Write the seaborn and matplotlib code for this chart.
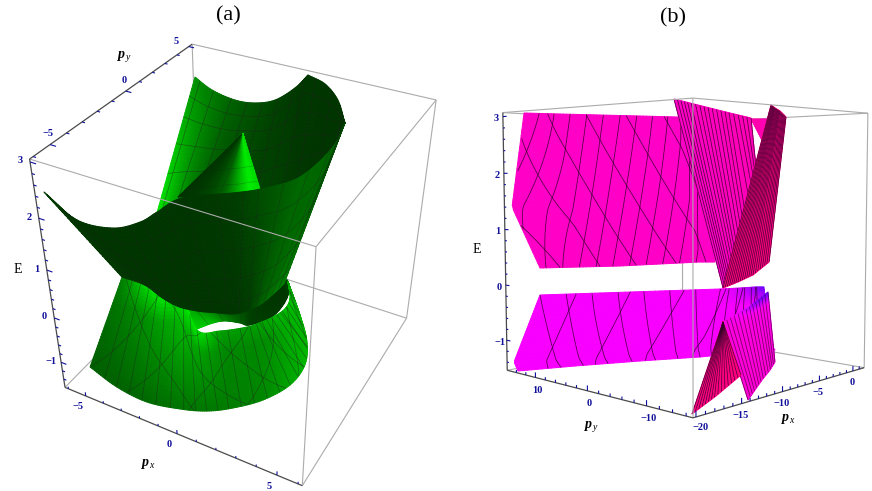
import numpy as np, matplotlib
matplotlib.use('Agg')
import matplotlib.pyplot as plt
import seaborn as sns
from mpl_toolkits.mplot3d.art3d import Line3DCollection

# ---------- panel (a): surface rails (px, py, E) ----------
A_PX_RANGE, A_PY_RANGE, A_E_RANGE = (-6.2, 6.2), (-6.2, 5.3), (-1.6, 3.05)
A1_px = [[-6.41,-5.21,-3.94,-3.04,-1.96,-0.76,-0.01], [-1.48,-0.45,0.23,0.98,2.02,2.70,3.44]]
A1_py = [[5.77,5.42,5.47,5.86,5.90,5.60,5.39], [-4.62,-4.86,-4.14,-3.54,-3.36,-3.15,-3.13]]
A1_E = [[2.3,2.2,2.1,2.05,2.2,2.6,2.95], [2.3,2.6,2.6,2.6,2.6,2.7,2.8]]
A1_shade = [[.55,.45,.3,.2,.1,.05,.03], [.95,.6,.3,.15,.1,.1,.05]]
A1R_px = [[-0.01,1.07,2.23,3.35], [3.44,3.66,4.05,3.35]]
A1R_py = [[5.39,4.95,3.86,2.20], [-3.13,-1.89,-0.93,2.20]]
A1R_E = [[2.95,2.95,2.95,2.95], [2.8,2.8,2.9,2.95]]
A1R_shade = [[.03,.02,.02,.02], [.05,.02,.02,.02]]
A2_px = [[-2.18]*7, [-3.83,-3.17,-2.60,-2.07,-1.49,-1.16,-0.78]]
A2_py = [[3.24]*7, [0.16,0.58,0.96,1.41,1.79,2.14,2.41]]
A2_E = [[2.0]*7, [1.2]*7]
A2_shade = [[0,.05,.15,.4,.8,1,.9], [0,.05,.15,.35,.75,1,.9]]
A3_px = [[-5.51,-4.22,-3.11,-2.15,-1.48,-0.24,1.32,2.12,3.29,3.65,3.35], [-4.49,-3.24,-2.08,-1.12,-0.25,0.40,1.25,1.67,1.96,2.11,2.21]]
A3_py = [[-6.40,-6.17,-5.40,-4.88,-4.62,-4.66,-3.50,-2.80,-1.73,0.45,2.20], [-3.49,-3.49,-3.86,-4.03,-3.91,-3.69,-3.37,-2.87,-2.30,-1.49,-0.66]]
A3_E = [[2.6,2.2,2.0,2.1,2.3,2.7,2.7,2.7,2.8,2.9,2.95], [.35]*11]
A3_shade = [[.05,.02,.02,.02,.02,.02,.07,.18,.36,.34,.12], [.05,.02,.02,.02,.02,.02,.02,.07,.3,.42,.45]]
A4_px = [[-1.12,-0.25,0.40,1.25,1.67,1.96,2.11,2.21], [-0.23,0.19,0.59,1.24,1.69,2.31,2.29,2.24]]
A4_py = [[-3.91,-3.69,-3.37,-2.87,-2.30,-1.49,-0.66,-0.38], [-4.01,-3.38,-3.03,-2.85,-2.77,-1.82,-0.48,-0.34]]
A4_E = [[.35]*8, [0,0,0,0,0,0,0,.3]]
A4_shade = [[.7,.5,.35,.15,.05,.02,.02,.2], [.85,.75,.5,.3,.1,.05,.05,.3]]
A5_px = [[-4.59,-3.75,-2.81,-2.09,-0.19,0.73,1.64,2.06,2.34,2.55,2.55,2.24], [-5.41,-3.53,-1.79,-0.25,0.88,1.81,2.77,3.42,3.56,3.43,2.95,2.24]]
A5_py = [[-3.36,-3.13,-2.96,-2.40,-4.06,-3.67,-2.94,-2.37,-1.87,-1.16,-0.70,-0.34], [-5.24,-5.71,-5.85,-5.54,-5.11,-4.45,-3.44,-2.10,-0.92,-0.55,-0.42,-0.34]]
A5_E = [[.3,.2,.1,0,0,0,0,0,0,0,.1,.3], [-1.3]*8 + [-1.2,-.8,-.3,.3]]
A5_shade = [[.45,.8,1,1,.95,.6,.6,.65,.7,.75,.8,.6],
            [.4,.5,.6,.72,.62,.5,.5,.55,.65,.72,.78,.6],
            [.3,.32,.35,.4,.42,.45,.5,.65,.72,.72,.72,.6]]

# ---------- panel (b) ----------
B_PX_RANGE, B_PY_RANGE, B_E_RANGE = (-20.3, 1.8), (-17, 16), (-1.55, 3.07)
B1_px = [[-21.90,-19.13,-16.04,-12.82,-9.67,-7.24], [-19.76,-15.87,-12.81,-9.29,-5.69,-4.14], [-16.67,-13.70,-10.66,-6.94,-3.04,-2.07]]
B1_py = [[8.30,6.67,4.63,2.51,0.59,-0.08], [15.49,10.44,7.83,5.73,3.64,2.43], [15.89,12.96,9.97,7.87,5.67,4.11]]
B1_E = [[3]*6, [1.4,1.35,1.35,1.35,1.35,1.35], [.25]*6]
B1_shade = [[.42]*6, [.42]*6]
B0_px = [[-9.48,-8.54], [-11.18,-11.18]]
B0_py = [[-11.42,-12.89], [-15.28,-15.28]]
B0_E = [[2.9,2.9], [2.5,2.5]]
B0_shade = [[.3,.35], [.3,.35]]
B2_px = [[-23.66,-20.47,-15.92,-10.57,-4.16], [-8.95,-8.13,-5.85,-6.20,68.30]]
B2_py = [[-19.20,-16.84,-13.47,-9.51,-4.91], [-6.36,-6.11,-4.37,-6.48,81.84]]
B2_E = [[3]*5, [0,.3,.7,1.4,2.2]]
B2_shade = [[.42,.4,.38,.36,.34]]*2
B3_px = [[-12.59,-9.87,-6.83,0.02], [-8.95,-7.93,-6.31,-2.32]]
B3_py = [[-18.06,-15.47,-12.71,-5.88], [-6.36,-7.52,-7.98,-5.88]]
B3_E = [[3.05]*4, [0,.1,.2,.35]]
B3_shade = [[.12]*4]*2
B4_px = [[-22.10,-18.07,-13.91,-9.61,-7.98,-6.61,-6.09], [-20.53,-16.44,-11.13,-5.83,-2.89,-0.56,1.19], [-20.47,-15.87,-10.54,-5.57,-2.66,-0.34,1.70]]
B4_py = [[5.30,1.42,-2.58,-6.72,-7.92,-8.68,-9.51], [14.00,9.24,5.40,1.85,0.22,-1.40,-2.03], [13.30,10.28,6.32,2.20,0.52,-1.15,-2.34]]
B4_E = [[0]*7, [-1.35]*7, [-1.5]*7]
B4_shade = [[.68,.68,.68,.68,.78,.9,1.0], [.68,.68,.68,.68,.68,.68,.68], [.68]*7]
B5_px = [[-8.96,-7.73,-6.37,-7.24,-8.35], [-14.57,-11.83,-8.82,-5.45,-2.59]]
B5_py = [[-6.38,-6.79,-7.25,-9.94,-12.81], [-17.40,-15.07,-12.52,-9.81,-7.30]]
B5_E = [[-.6,-.5,-.4,-.2,0], [-1.5]*5]
B5_shade = [[.55,.65,.8,.95,1.0], [.52,.53,.55,.57,.6], [.48]*5]
B6_px = [[-8.96]*3, [-20.26,-15.31,-8.61]]
B6_py = [[-6.38]*3, [-16.79,-13.61,-8.92]]
B6_E = [[-.6]*3, [-1.5]*3]
B6_shade = [[.12]*3]*2

A_PX_TICKS, A_PY_TICKS, A_E_TICKS = [-5, 0, 5], [-5, 0, 5], [-1, 0, 1, 2, 3]
B_PX_TICKS, B_PY_TICKS, B_E_TICKS = [-20, -15, -10, -5, 0], [-10, 0, 10], [-1, 0, 1, 2, 3]

sns.set_theme(style='white')
plt.rcParams['font.family'] = ['Liberation Serif', 'DejaVu Serif']
plt.rcParams['mathtext.fontset'] = 'custom'
plt.rcParams['mathtext.rm'] = 'Liberation Serif'
plt.rcParams['mathtext.it'] = 'Liberation Serif:italic'
plt.rcParams['mathtext.bfit'] = 'Liberation Serif:italic:bold'

GREENS = sns.blend_palette(['#003200', '#006400', '#00aa00', '#00ee00'], 256, as_cmap=True)
PINKS = sns.blend_palette(['#ff0064', '#ff00b4', '#ff00ff', '#6a00ff'], 256, as_cmap=True)
TICK = '#10109a'
GREY, DARK = '#ababab', '#4a4a4a'

fig = plt.figure(figsize=(8.72, 4.91), dpi=100)


def camera(px_r, py_r, e_r, pixels):
    """Projective camera of one panel, fitted on its eight box corners."""
    A, b = [], []
    for (i, j, k), (u, v) in pixels.items():
        X, Y, Z = px_r[i], py_r[j], e_r[k]
        A.append([X, Y, Z, 1, 0, 0, 0, 0, -u*X, -u*Y, -u*Z]); b.append(u)
        A.append([0, 0, 0, 0, X, Y, Z, 1, -v*X, -v*Y, -v*Z]); b.append(v)
    p = np.linalg.lstsq(np.array(A, float), np.array(b, float), rcond=None)[0]
    return np.append(p, 1).reshape(3, 4)


def panel_axes(P):
    ax = fig.add_axes([0, 0, 1, 1], projection='3d', computed_zorder=False)
    M = np.vstack([P[0], P[1], [0, 0, 1, 0], P[2]])
    ax.get_proj = lambda: M
    ax.apply_aspect = lambda position=None: None
    ax.set_axis_off()
    ax.patch.set_visible(False)
    return ax


def catmull(v, n):
    v = np.asarray(v, float)
    p = np.r_[2*v[0]-v[1], v, 2*v[-1]-v[-2]]
    out = []
    for i in range(1, len(p)-2):
        u = np.linspace(0, 1, n, endpoint=False)
        out.append(.5*((2*p[i]) + (p[i+1]-p[i-1])*u + (2*p[i-1]-5*p[i]+4*p[i+1]-p[i+2])*u**2
                       + (3*p[i]-p[i-1]-3*p[i+1]+p[i+2])*u**3))
    out.append([v[-1]])
    return np.concatenate(out)


def linear(v, n):
    v = np.asarray(v, float)
    i = np.linspace(0, len(v)-1, (len(v)-1)*n+1)
    return np.interp(i, np.arange(len(v)), v)


def refine(rows, row_t, smooth, nr=30, n=12):
    f = catmull if smooth else linear
    G = np.array([f(r, n) for r in rows])
    t = np.linspace(0, 1, nr)
    return np.array([np.interp(t, row_t, G[:, c]) for c in range(G.shape[1])]).T


def patch(ax, px, py, E, shade, cmap, z, row_t=(0, 1), shade_t=None, smooth=False):
    X, Y, Z = (refine(a, row_t, smooth) for a in (px, py, E))
    if shade_t is None:
        shade_t = row_t if len(shade) == len(row_t) else np.linspace(0, 1, len(shade))
    S = refine(shade, shade_t, False)
    ax.plot_surface(X, Y, Z, facecolors=cmap(np.clip(S, 0, 1)), rstride=1, cstride=1,
                    shade=False, linewidth=.7, zorder=z)
    return X, Y, Z


def segments(ax, segs, color, lw, alpha, z):
    ax.add_collection3d(Line3DCollection(np.array(segs, float), colors=color, linewidths=lw,
                                         alpha=alpha, zorder=z))


def bilinear(G, tc, sc):
    i = np.minimum(tc.astype(int), G.shape[0]-2)
    j = np.minimum(sc.astype(int), G.shape[1]-2)
    a, b = tc-i, sc-j
    return (G[i, j]*(1-a)*(1-b) + G[i+1, j]*a*(1-b) + G[i, j+1]*(1-a)*b + G[i+1, j+1]*a*b)


def mesh(ax, grid, pairs, z, color, lw, alpha, t_lines=()):
    X, Y, Z = grid
    nr, nc = X.shape
    t = np.linspace(0, 1, 40)
    segs = []
    for s0, s1 in pairs:
        s = s0 + (s1-s0)*t
        keep = (s >= 0) & (s <= 1)
        if keep.sum() < 2:
            continue
        tc, sc = t[keep]*(nr-1), s[keep]*(nc-1)
        pts = np.c_[bilinear(X, tc, sc), bilinear(Y, tc, sc), bilinear(Z, tc, sc)]
        segs += [(pts[k], pts[k+1]) for k in range(len(pts)-1)]
    for tv in t_lines:
        i = int(round(tv*(nr-1)))
        pts = np.c_[X[i], Y[i], Z[i]]
        segs += [(pts[k], pts[k+1]) for k in range(len(pts)-1)]
    segments(ax, segs, color, lw, alpha, z)


def label(ax, P, at, text, off, **kw):
    h = P @ np.r_[at, 1]
    ax.annotate(text, xy=(h[0]/h[2], h[1]/h[2]), xytext=(off[0], -off[1]), textcoords='offset pixels',
                ha='center', va='center', annotation_clip=False, **kw)


def tick_label(ax, P, at, text, off):
    s = str(text).replace('-', '\u2212')
    label(ax, P, at, s, off, fontsize=7.5, fontweight='bold', color=TICK, zorder=60)


AXIS_FONT = dict(fontsize=10, color='black', zorder=60)

# =============== panel (a) ===============
a0, a1 = A_PX_RANGE; b0, b1 = A_PY_RANGE; e0, e1 = A_E_RANGE
Pa = camera(A_PX_RANGE, A_PY_RANGE, A_E_RANGE, {
    (0, 0, 1): (30, 158), (1, 0, 1): (316, 248), (0, 1, 1): (192, 44), (1, 1, 1): (436, 100),
    (0, 0, 0): (65, 387), (1, 0, 0): (302, 486), (1, 1, 0): (407, 317), (0, 1, 0): (199, 252)})
axa = panel_axes(Pa)
segments(axa, [((a0, b1, e1), (a0, b1, e0)), ((a0, b1, e0), (a1, b1, e0)), ((a0, b0, e0), (a0, b1, e0)),
               ((a0, b1, e1), (a1, b1, e1)), ((a1, b1, e1), (a1, b1, e0)), ((a1, b0, e0), (a1, b1, e0))],
         GREY, .8, 1, 1)

MC, ML, MA = '#222222', .45, .55
g = patch(axa, A1_px, A1_py, A1_E, A1_shade, GREENS, 2, smooth=True)
mesh(axa, g, [(s, s) for s in np.linspace(.05, .95, 8)], 3, MC, ML, MA, t_lines=(.18, .36, .55, .75))
g = patch(axa, A1R_px, A1R_py, A1R_E, A1R_shade, GREENS, 2, smooth=True)
mesh(axa, g, [(s, s) for s in np.linspace(.15, .85, 3)], 3, MC, ML, MA, t_lines=(.18, .36, .55, .75))
g = patch(axa, A2_px, A2_py, A2_E, A2_shade, GREENS, 4)
mesh(axa, g, [(.45, .45)], 5, MC, ML, .3, t_lines=(.6, .85))
g = patch(axa, A4_px, A4_py, A4_E, A4_shade, GREENS, 6, smooth=True)
mesh(axa, g, [(s, s) for s in np.linspace(.1, .95, 6)], 7, MC, ML, .35)
g = patch(axa, A5_px, A5_py, A5_E, A5_shade, GREENS, 8, shade_t=(0, .25, 1), smooth=True)
mesh(axa, g, [(s, s) for s in np.linspace(.05, .95, 24)]
     + [(.18, .0), (.38, .12), (.55, .3), (.72, .5), (.84, .68), (.95, .83),
        (.02, .32), (.2, .5), (.42, .62), (.62, .72), (.78, .8)], 9, MC, ML, MA)
g = patch(axa, A3_px, A3_py, A3_E, A3_shade, GREENS, 10, smooth=True)
mesh(axa, g, [(s, s) for s in np.linspace(.06, .95, 15)], 11, MC, ML, .4, t_lines=(.2, .45, .7, .88))

segments(axa, [((a0, b0, e1), (a1, b0, e1)), ((a1, b0, e1), (a1, b0, e0)), ((a1, b0, e1), (a1, b1, e1))],
         GREY, .8, 1, 20)
segments(axa, [((a0, b0, e0), (a1, b0, e0)), ((a0, b0, e1), (a0, b1, e1)), ((a0, b0, e1), (a0, b0, e0))],
         DARK, .9, 1, 21)
ticks = [((v, b0, e0), (v, b0, e0+(.09 if v % 5 == 0 else .05))) for v in range(-6, 7)]
ticks += [((a0, v, e1), (a0+(.3 if v % 5 == 0 else .15), v, e1)) for v in range(-6, 6)]
ticks += [((a0, b0, v/5), (a0+(.3 if v % 5 == 0 else .15), b0, v/5)) for v in range(-7, 16)]
segments(axa, ticks, TICK, .8, 1, 22)
for v in A_PX_TICKS:
    tick_label(axa, Pa, (v, b0, e0), v, (-8, 11))
for v in A_PY_TICKS:
    tick_label(axa, Pa, (a0, v, e1), v, (-2, -11) if v < 5 else (-13, -5))
for v in A_E_TICKS:
    tick_label(axa, Pa, (a0, b0, v), v, (-10, -1))
label(axa, Pa, (-1, b0, e0), r'$\mathbfit{p}_{\mathit{x}}$', (-10, 38), **AXIS_FONT)
label(axa, Pa, (a0, 0, e1), r'$\mathbfit{p}_{\mathit{y}}$', (-2, -35), **AXIS_FONT)
label(axa, Pa, (a0, b0, 1), 'E', (-29, -1), **AXIS_FONT)
axa._viewLim.set_points(np.array([[0, 491], [872, 0]], float))

# =============== panel (b) ===============
a0, a1 = B_PX_RANGE; b0, b1 = B_PY_RANGE; e0, e1 = B_E_RANGE
Pb = camera(B_PX_RANGE, B_PY_RANGE, B_E_RANGE, {
    (0, 0, 0): (693, 417.5), (0, 1, 0): (507, 370.5), (1, 0, 0): (864, 368), (1, 1, 0): (683, 336),
    (0, 0, 1): (693, 97), (0, 1, 1): (503, 113.5), (1, 0, 1): (868, 114), (1, 1, 1): (682, 122)})
axb = panel_axes(Pb)
segments(axb, [((a1, b1, e1), (a1, b1, e0)), ((a0, b1, e0), (a1, b1, e0)), ((a1, b0, e0), (a1, b1, e0)),
               ((a0, b1, e1), (a1, b1, e1)), ((a1, b0, e1), (a1, b1, e1)), ((a1, b0, e1), (a1, b0, e0))],
         GREY, .8, 1, 1)
MC, ML, MA = '#30002a', .55, .85
g = patch(axb, B1_px, B1_py, B1_E, B1_shade, PINKS, 2, row_t=(0, .6, 1), shade_t=(0, 1))
mesh(axb, g, [(s, s-.22) for s in np.linspace(.0, 1.0, 13)]
     + [(s, s+.35) for s in (-.25, -.05, .13, .33, .53, .73, .93)], 3, MC, ML, MA)
patch(axb, B0_px, B0_py, B0_E, B0_shade, PINKS, 4)
g = patch(axb, B4_px, B4_py, B4_E, B4_shade, PINKS, 5, row_t=(0, .92, 1), shade_t=(0, .25, 1))
mesh(axb, g, [(s, .125+.87*s) for s in np.arange(.0, .9, .072)]
     + [(s, .87*s) for s in np.arange(.1, .95, .15)], 6, MC, ML, MA)
g = patch(axb, B2_px, B2_py, B2_E, B2_shade, PINKS, 7)
mesh(axb, g, [(s, s) for s in np.linspace(0, 1, 20)], 8, MC, ML, MA)
g = patch(axb, B3_px, B3_py, B3_E, B3_shade, PINKS, 9)
mesh(axb, g, [(s, s) for s in np.linspace(0, 1, 22)], 10, MC, ML, MA)
g = patch(axb, B5_px, B5_py, B5_E, B5_shade, PINKS, 11, shade_t=(0, .15, 1))
mesh(axb, g, [(s, s) for s in np.linspace(0, 1, 14)], 12, MC, ML, .7)
g = patch(axb, B6_px, B6_py, B6_E, B6_shade, PINKS, 13)
mesh(axb, g, [(s, s) for s in np.linspace(0, 1, 16)], 14, MC, ML, MA)

segments(axb, [((a0, b0, e0), (a0, b0, e1)), ((a0, b0, e1), (a0, b1, e1)), ((a0, b0, e1), (a1, b0, e1))],
         GREY, .8, 1, 20)
segments(axb, [((a0, b1, e0), (a0, b0, e0)), ((a0, b0, e0), (a1, b0, e0)), ((a0, b1, e1), (a0, b1, e0))],
         DARK, .9, 1, 21)
ticks = [((a0, v, e0), (a0, v, e0+(.09 if v % 10 == 0 else .05))) for v in range(-16, 16, 2)]
ticks += [((v, b0, e0), (v, b0, e0+(.09 if v % 5 == 0 else .05))) for v in range(-20, 2)]
ticks += [((a0, b1, v/5), (a0, b1-(.8 if v % 5 == 0 else .4), v/5)) for v in range(-7, 16)]
segments(axb, ticks, TICK, .8, 1, 22)
for v in B_PY_TICKS:
    tick_label(axb, Pb, (a0, v, e0), v, (2, 13))
for v in B_PX_TICKS:
    tick_label(axb, Pb, (v, b0, e0), v, (-1, 12) if v > -20 else (5, 10))
for v in B_E_TICKS:
    tick_label(axb, Pb, (a0, b1, v), v, (-7, 2))
label(axb, Pb, (a0, 0, e0), r'$\mathbfit{p}_{\mathit{y}}$', (4, 36), **AXIS_FONT)
label(axb, Pb, (-10, b0, e0), r'$\mathbfit{p}_{\mathit{x}}$', (6, 27), **AXIS_FONT)
label(axb, Pb, (a0, b1, 1), 'E', (-28, 20), **AXIS_FONT)
axb._viewLim.set_points(np.array([[0, 491], [872, 0]], float))

fig.text(228/872, 1-16/491, '(a)', ha='center', va='center', fontsize=16, color='black')
fig.text(673/872, 1-18/491, '(b)', ha='center', va='center', fontsize=16, color='black')
fig.savefig('out.png', dpi=100, facecolor='white')
